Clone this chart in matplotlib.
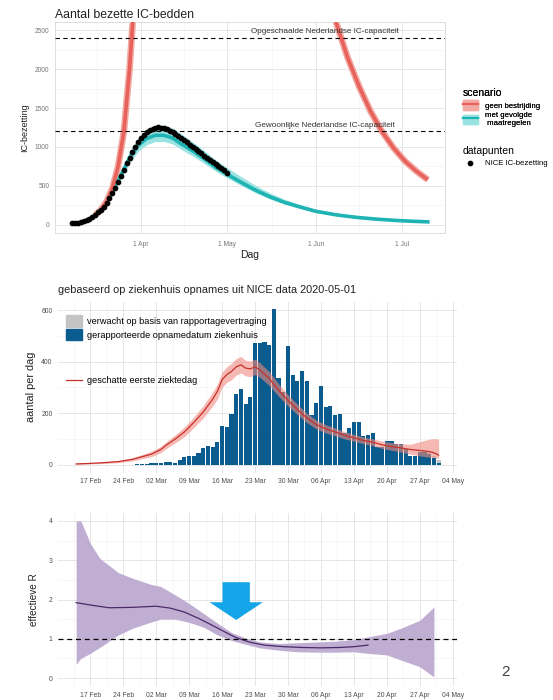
import matplotlib
matplotlib.use("Agg")
import matplotlib.pyplot as plt
import matplotlib.dates as mdates
import matplotlib.ticker as mticker
from matplotlib.patches import Patch, FancyArrow
from matplotlib.lines import Line2D
import pandas as pd

plt.rcParams['font.family'] = ['Liberation Sans', 'DejaVu Sans']

# ---------- bovenste grafiek: aantal bezette IC-bedden ----------
# NICE IC-bezetting, dagelijks vanaf 8 maart
nice_start = "2020-03-08"
nice_ic = [20, 24, 30, 38, 50, 62, 78, 100, 125, 160, 195, 235, 285, 340, 405,
           470, 545, 625, 705, 790, 860, 930, 1000, 1060, 1110, 1160, 1190, 1215,
           1232, 1245, 1255, 1250, 1240, 1225, 1210, 1195, 1170, 1145, 1120, 1090,
           1060, 1030, 1000, 970, 945, 920, 890, 860, 835, 810, 780, 755, 725, 700, 670]

# scenario met gevolgde maatregelen
maatr_dag = ["03-16", "03-19", "03-22", "03-25", "03-28", "03-31", "04-03", "04-06",
             "04-09", "04-12", "04-15", "04-19", "04-23", "04-27", "05-01", "05-06",
             "05-11", "05-16", "05-21", "05-26", "06-01", "06-08", "06-15", "06-22",
             "06-29", "07-05", "07-10"]
maatr_mid = [125, 235, 420, 640, 860, 1020, 1110, 1150, 1150, 1115, 1040, 950, 850,
             740, 650, 545, 445, 360, 290, 235, 175, 130, 98, 75, 58, 47, 40]
maatr_laag = [110, 210, 385, 590, 795, 945, 1030, 1070, 1070, 1040, 970, 885, 790,
              690, 605, 505, 412, 333, 268, 217, 161, 119, 89, 68, 52, 42, 35]
maatr_hoog = [140, 262, 465, 705, 945, 1120, 1225, 1275, 1280, 1245, 1170, 1065, 955,
              835, 735, 618, 506, 410, 330, 268, 200, 150, 113, 87, 68, 55, 47]

# scenario geen bestrijding (stijgend en dalend deel)
geen_op_dag = ["03-16", "03-18", "03-20", "03-22", "03-24", "03-26", "03-28", "03-30", "04-01"]
geen_op = [125, 195, 300, 470, 750, 1190, 2000, 3100, 4800]
geen_af_dag = ["06-04", "06-06", "06-08", "06-12", "06-16", "06-20", "06-24", "06-28",
               "07-02", "07-06", "07-10"]
geen_af = [3150, 2850, 2600, 2150, 1780, 1460, 1200, 990, 820, 690, 580]

capaciteit = [2400, 1200]
capaciteit_tekst = ["Opgeschaalde Nederlandse IC-capaciteit",
                    "Gewoonlijke Nederlandse IC-capaciteit"]

# ---------- middelste grafiek: ziekenhuisopnames ----------
opname_start = "2020-02-27"
opnames = [4, 5, 3, 7, 7, 7, 10, 10, 8, 19, 30, 33, 33, 48, 64, 73, 71, 88, 151, 148,
           196, 273, 294, 235, 265, 471, 471, 477, 464, 603, 335, 284, 461, 348, 325,
           364, 325, 194, 241, 306, 223, 228, 194, 197, 123, 142, 165, 165, 112, 115,
           125, 71, 71, 94, 94, 81, 81, 62, 36, 36, 49, 50, 43, 26, 6]
verwacht = [0] * 60 + [2, 4, 6, 9, 14]

ziek_dag = ["02-14", "02-17", "02-20", "02-23", "02-26", "02-28", "03-01", "03-03",
            "03-04", "03-06", "03-08", "03-10", "03-12", "03-14", "03-15", "03-16",
            "03-17", "03-18", "03-19", "03-20", "03-21", "03-22", "03-23", "03-24",
            "03-26", "03-28", "03-30", "04-01", "04-03", "04-05", "04-07", "04-09",
            "04-11", "04-13", "04-15", "04-17", "04-19", "04-21", "04-23", "04-25",
            "04-27", "04-29", "04-30", "05-01"]
ziek_mid = [4, 6, 9, 13, 22, 32, 42, 60, 75, 100, 128, 165, 205, 255, 285, 330, 350,
            362, 380, 388, 375, 372, 380, 368, 335, 290, 250, 215, 182, 157, 140, 128,
            115, 105, 95, 88, 78, 71, 66, 60, 56, 52, 47, 38]
ziek_laag = [2, 4, 6, 9, 16, 24, 32, 48, 62, 85, 110, 145, 182, 228, 256, 300, 320,
             330, 348, 356, 345, 342, 350, 340, 308, 266, 228, 195, 164, 140, 124, 113,
             101, 92, 82, 75, 64, 57, 50, 42, 35, 30, 30, 25]
ziek_hoog = [6, 8, 12, 17, 28, 40, 53, 72, 88, 116, 147, 186, 230, 282, 313, 360, 380,
             394, 412, 420, 405, 402, 410, 396, 362, 314, 272, 235, 200, 174, 156, 143,
             129, 118, 108, 101, 92, 86, 82, 80, 90, 100, 102, 100]

# ---------- onderste grafiek: effectieve R ----------
r_dag = ["02-14", "02-17", "02-21", "02-26", "03-02", "03-05", "03-08", "03-11",
         "03-13", "03-17", "03-19", "03-22", "03-25", "03-29", "04-02", "04-06",
         "04-10", "04-13", "04-16"]
r_mid = [1.92, 1.86, 1.79, 1.80, 1.83, 1.78, 1.68, 1.52, 1.40, 1.15, 1.03, 0.91,
         0.84, 0.80, 0.78, 0.77, 0.78, 0.80, 0.84]
r_band_dag = ["02-14", "02-15", "02-17", "02-19", "02-23", "02-26", "03-01", "03-03",
              "03-06", "03-09", "03-12", "03-15", "03-18", "03-21", "03-24", "03-28",
              "04-01", "04-05", "04-09", "04-13", "04-16", "04-20", "04-23", "04-27", "04-30"]
r_hoog = [4.0, 4.0, 3.43, 3.05, 2.68, 2.54, 2.38, 2.33, 2.12, 1.90, 1.65, 1.40, 1.16,
          1.02, 0.92, 0.88, 0.90, 0.92, 0.94, 0.98, 1.05, 1.14, 1.27, 1.47, 1.81]
r_laag = [0.35, 0.50, 0.63, 0.78, 1.10, 1.27, 1.43, 1.50, 1.50, 1.42, 1.30, 1.10, 0.96,
          0.86, 0.77, 0.71, 0.67, 0.66, 0.66, 0.67, 0.63, 0.59, 0.46, 0.29, 0.03]

# pijl bij de maatregelen (rond 19 maart)
pijl_dag = "2020-03-19"
pijl_top, pijl_punt = 2.44, 1.48


def d(lst):
    return pd.to_datetime(["2020-" + s for s in lst])


fig = plt.figure(figsize=(5.53, 7.0), dpi=100)

# ===== bovenste paneel =====
ax1 = fig.add_axes([55 / 553, 1 - 233 / 700, 390 / 553, 211 / 700])
ax1.fill_between(d(maatr_dag), maatr_laag, maatr_hoog, color="#9be3e3", lw=0, zorder=2)
ax1.plot(d(maatr_dag), maatr_mid, color="#1fb3b3", lw=2.6, zorder=3)
for xs, ys in [(geen_op_dag, geen_op), (geen_af_dag, geen_af)]:
    ax1.plot(d(xs), ys, color="#f3aaa4", lw=4.8, zorder=2, solid_capstyle="butt")
    ax1.plot(d(xs), ys, color="#e6625a", lw=2.6, zorder=3, solid_capstyle="butt")
ax1.plot(pd.date_range(nice_start, periods=len(nice_ic)), nice_ic, "o", color="black",
         ms=3.1, zorder=4)
tekst_x = pd.Timestamp("2020-06-04")
for y, t in zip(capaciteit, capaciteit_tekst):
    ax1.axhline(y, color="black", lw=0.8, ls=(0, (4, 3)), zorder=3)
    ax1.text(tekst_x, y + 35, t, ha="center", va="bottom", fontsize=5.9, color="#333333")

ax1.set_xlim(pd.Timestamp("2020-03-02"), pd.Timestamp("2020-07-16"))
ax1.set_ylim(-103, 2603)
ax1.xaxis.set_major_locator(mdates.MonthLocator(bymonth=[4, 5, 6, 7]))
ax1.xaxis.set_major_formatter(mticker.FuncFormatter(
    lambda v, p: mdates.num2date(v).strftime("%-d %b")))
ax1.xaxis.set_minor_locator(mticker.FixedLocator(mdates.date2num(pd.to_datetime(
    ["2020-03-16 12:00", "2020-04-16 00:00", "2020-05-16 12:00", "2020-06-16 00:00"]))))
ax1.yaxis.set_major_locator(mticker.MultipleLocator(500))
ax1.yaxis.set_minor_locator(mticker.MultipleLocator(250))
ax1.grid(which="major", color="#e3e3e3", lw=0.6)
ax1.grid(which="minor", color="#efefef", lw=0.4)
ax1.set_axisbelow(True)
for s in ax1.spines.values():
    s.set_color("#d9d9d9")
    s.set_linewidth(0.6)
ax1.tick_params(which="both", length=0, labelsize=4.8, labelcolor="#777777", pad=4)
ax1.tick_params(axis="x", pad=6)
ax1.set_xlabel("Dag", fontsize=7.5, color="#222222", labelpad=1)
ax1.set_ylabel("IC-bezetting", fontsize=6.5, color="#222222", labelpad=4)
ax1.set_title("Aantal bezette IC-bedden", loc="left", fontsize=8.8, color="#222222", pad=3)

h_geen = (Patch(facecolor="#f3aaa4", edgecolor="#f3aaa4"), Line2D([], [], color="#e6625a", lw=1.6))
h_maatr = (Patch(facecolor="#9be3e3", edgecolor="#9be3e3"), Line2D([], [], color="#1fb3b3", lw=1.6))
leg1 = fig.legend([h_geen, h_maatr], ["geen bestrijding", "met gevolgde\n maatregelen"],
                  loc="upper left", bbox_to_anchor=(459 / 553, 1 - 84 / 700), frameon=False,
                  title="scenario", title_fontsize=7.5, fontsize=5.6, alignment="left",
                  handlelength=1.9, handleheight=1.5, labelspacing=0.3, borderpad=0,
                  handletextpad=0.9)
fig.add_artist(leg1)
fig.legend([Line2D([], [], ls="", marker="o", color="black", ms=3.1)], ["NICE IC-bezetting"],
           loc="upper left", bbox_to_anchor=(459 / 553, 1 - 142 / 700), frameon=False,
           title="datapunten", title_fontsize=7.5, fontsize=5.6, alignment="left",
           handlelength=1.9, borderpad=0, handletextpad=0.9)

# ===== middelste en onderste paneel: gemeenschappelijke x-as =====
x_links = pd.Timestamp("2020-02-17") - pd.Timedelta(days=6.85)
x_rechts = pd.Timestamp("2020-02-17") + pd.Timedelta(days=77.9)
week = pd.date_range("2020-02-17", "2020-05-04", freq="7D")
halve_week = mdates.date2num(week) - 3.5


def minimal(ax, ymaj, ymin):
    ax.set_xlim(x_links, x_rechts)
    ax.xaxis.set_major_locator(mticker.FixedLocator(mdates.date2num(week)))
    ax.xaxis.set_major_formatter(mdates.DateFormatter("%d %b"))
    ax.xaxis.set_minor_locator(mticker.FixedLocator(list(halve_week) + [halve_week[-1] + 7]))
    ax.yaxis.set_major_locator(mticker.MultipleLocator(ymaj))
    ax.yaxis.set_minor_locator(mticker.MultipleLocator(ymin))
    ax.grid(which="major", color="#e6e6e6", lw=0.7)
    ax.grid(which="minor", color="#f0f0f0", lw=0.4)
    ax.set_axisbelow(True)
    for s in ax.spines.values():
        s.set_visible(False)
    ax.tick_params(which="both", length=0, labelsize=4.9, labelcolor="#4d4d4d", pad=4)


ax2 = fig.add_axes([58 / 553, 1 - 472.7 / 700, 399 / 553, 171.2 / 700])
bar_x = pd.date_range(opname_start, periods=len(opnames))
ax2.bar(bar_x, opnames, width=0.88, color="#0b5c8e", zorder=2)
ax2.bar(bar_x, verwacht, bottom=opnames, width=0.88, color="#c4c4c4", zorder=2)
ax2.fill_between(d(ziek_dag), ziek_laag, ziek_hoog, color="#f08a80", alpha=0.6, lw=0, zorder=3)
ax2.plot(d(ziek_dag), ziek_mid, color="#c8302a", lw=0.9, zorder=4)
ax2.set_ylim(-30, 633)
minimal(ax2, 200, 100)
ax2.set_ylabel("aantal per dag", fontsize=7.8, color="#222222", labelpad=4)
ax2.set_title("gebaseerd op ziekenhuis opnames uit NICE data 2020-05-01", loc="left",
              fontsize=7.9, color="#222222", pad=6)
leg2 = ax2.legend([Patch(color="#c4c4c4"), Patch(color="#0b5c8e")],
                  ["verwacht op basis van rapportagevertraging",
                   "gerapporteerde opnamedatum ziekenhuis"],
                  loc="upper left", bbox_to_anchor=(0.008, 0.945), frameon=False,
                  fontsize=6.6, handlelength=1.75, handleheight=1.55, labelspacing=0.2,
                  borderpad=0, handletextpad=0.6)
ax2.add_artist(leg2)
ax2.legend([Line2D([], [], color="#c8302a", lw=0.9)], ["geschatte eerste ziektedag"],
           loc="center left", bbox_to_anchor=(0.008, 0.54), frameon=False, fontsize=6.6,
           handlelength=1.75, borderpad=0, handletextpad=0.6)

ax3 = fig.add_axes([58 / 553, 1 - 686 / 700, 399 / 553, 173 / 700])
ax3.fill_between(d(r_band_dag), r_laag, r_hoog, color="#bfaed2", lw=0, zorder=2)
ax3.plot(d(r_dag), r_mid, color="#4a2a6a", lw=0.9, zorder=3)
ax3.axhline(1, color="black", lw=0.9, ls=(0, (4, 3)), zorder=4)
px = mdates.date2num(pd.Timestamp(pijl_dag))
ax3.add_patch(FancyArrow(px, pijl_top, 0, pijl_punt - pijl_top, width=5.8, head_width=11.3,
                         head_length=0.45, length_includes_head=True, color="#13a5e8",
                         lw=0, zorder=5))
ax3.set_ylim(-0.2, 4.2)
minimal(ax3, 1, 0.5)
ax3.set_ylabel("effectieve R", fontsize=7.2, color="#222222", labelpad=7)

fig.text(505 / 553, 1 - 672 / 700, "2", fontsize=11, color="#444444", ha="center", va="center")

fig.savefig("out.png", dpi=100)
